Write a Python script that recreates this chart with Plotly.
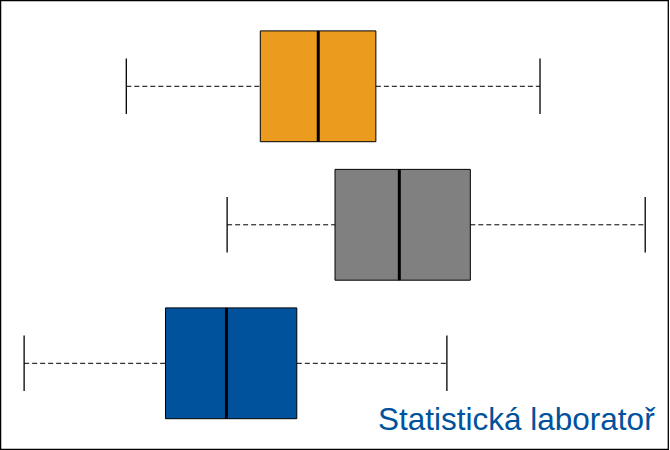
import plotly.graph_objects as go

# three groups, bottom to top
groups = ["blue", "gray", "orange"]
ypos = [0, 1, 2]
colors = ["#00529C", "#808080", "#EB9C1F"]

mins = [3.6, 33.9, 18.85]
q1s = [24.7, 50.0, 38.85]
medians = [33.8, 59.6, 47.5]
q3s = [44.3, 70.2, 56.1]
maxs = [66.7, 96.3, 80.6]

BOX_W = 0.8
CAP = 0.2

fig = go.Figure()

# boxes as horizontal bars from q1 to q3
fig.add_trace(go.Bar(
    y=ypos, x=[q3 - q1 for q1, q3 in zip(q1s, q3s)], base=q1s,
    orientation="h", width=BOX_W,
    marker=dict(color=colors, line=dict(color="black", width=1)),
    hoverinfo="skip"))

# dashed whiskers
wx, wy = [], []
for y, lo, q1, q3, hi in zip(ypos, mins, q1s, q3s, maxs):
    wx += [lo, q1, None, q3, hi, None]
    wy += [y, y, None, y, y, None]
fig.add_trace(go.Scatter(x=wx, y=wy, mode="lines",
                         line=dict(color="black", width=1, dash="5px,3px"),
                         hoverinfo="skip"))

# caps
cx, cy = [], []
for y, lo, hi in zip(ypos, mins, maxs):
    cx += [lo, lo, None, hi, hi, None]
    cy += [y - CAP, y + CAP, None, y - CAP, y + CAP, None]
fig.add_trace(go.Scatter(x=cx, y=cy, mode="lines",
                         line=dict(color="black", width=1.3),
                         hoverinfo="skip"))

# medians
mx, my = [], []
for y, m in zip(ypos, medians):
    mx += [m, m, None]
    my += [y - BOX_W / 2, y + BOX_W / 2, None]
fig.add_trace(go.Scatter(x=mx, y=my, mode="lines",
                         line=dict(color="black", width=3),
                         hoverinfo="skip"))

fig.update_layout(
    width=670, height=450,
    margin=dict(l=0, r=0, t=0, b=0),
    paper_bgcolor="white", plot_bgcolor="white",
    showlegend=False,
    xaxis=dict(range=[0, 100], visible=False),
    yaxis=dict(range=[-0.626, 2.623], visible=False),
    shapes=[dict(type="rect", xref="paper", yref="paper",
                 x0=0.6 / 670, x1=668.3 / 670, y0=0.7 / 450, y1=449.4 / 450,
                 line=dict(color="black", width=1.3))],
    annotations=[dict(text="Statistická laboratoř", xref="paper", yref="paper",
                      x=658 / 670, y=(450 - 439) / 450,
                      xanchor="right", yanchor="bottom", showarrow=False,
                      font=dict(family="Liberation Sans, Arial", size=31.5,
                                color="#00529C"))],
)

# page body has an 8px default margin, drop it so the figure fills the window
fig.write_html("out.html", config={"displayModeBar": False},
               post_script="document.body.style.margin = '0';")
